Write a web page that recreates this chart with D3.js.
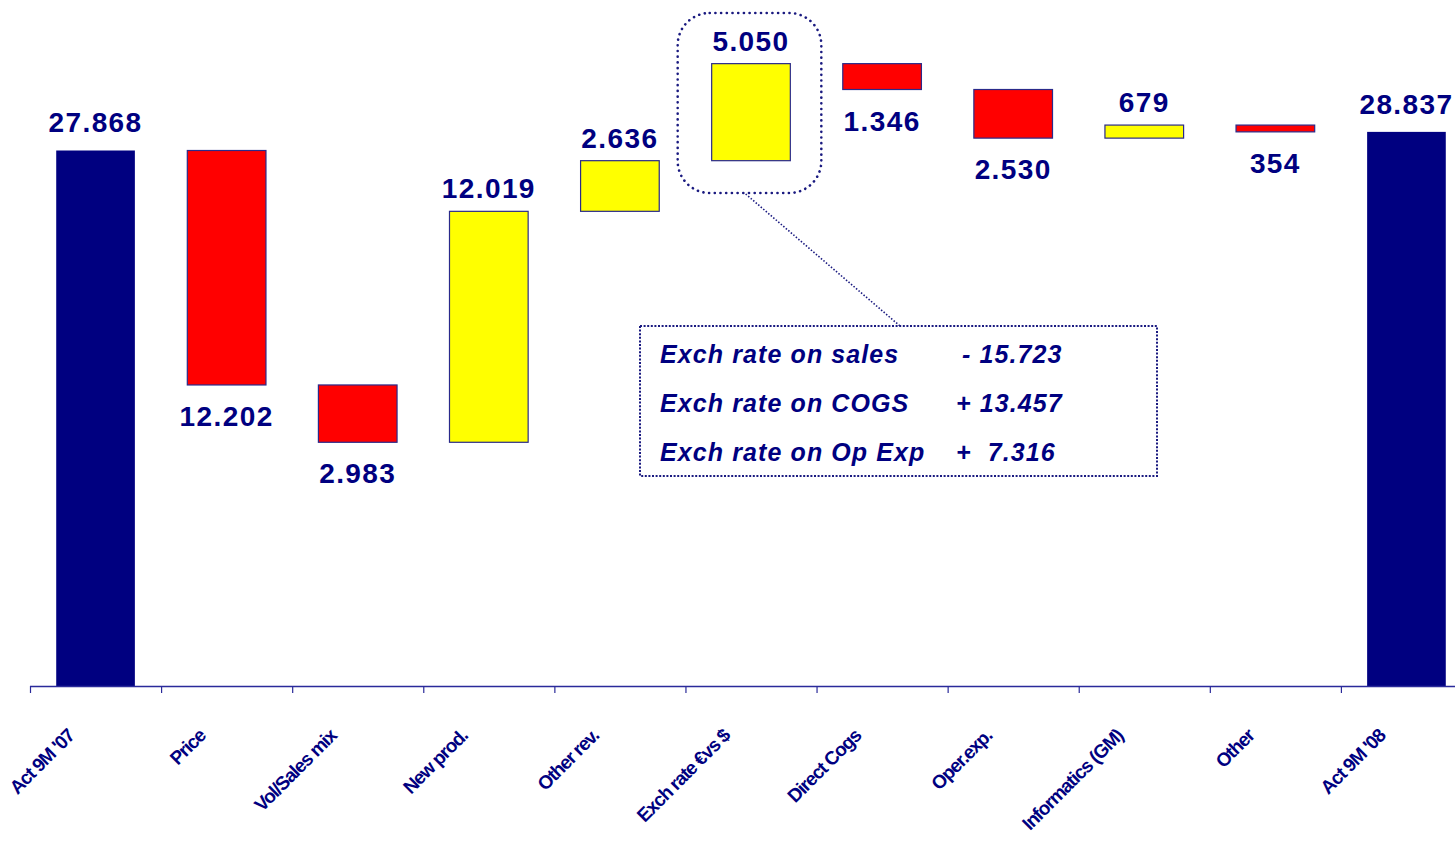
<!DOCTYPE html>
<html>
<head>
<meta charset="utf-8">
<script src="https://cdn.jsdelivr.net/npm/d3@7"></script>
<style>
  body { margin: 0; background: #fff; }
  text { font-family: "Liberation Sans", Arial, sans-serif; }
</style>
</head>
<body>
<div id="chart"></div>
<script>
// waterfall: first and last are totals, the rest are deltas
var categories = ["Act 9M '07", "Price", "Vol/Sales mix", "New prod.", "Other rev.",
  "Exch rate \u20acvs $", "Direct Cogs", "Oper.exp.", "Informatics (GM)", "Other", "Act 9M '08"];
var values = [27868, -12202, -2983, 12019, 2636, 5050, -1346, -2530, 679, -354, 28837];
var valueLabels = ["27.868", "12.202", "2.983", "12.019", "2.636", "5.050", "1.346", "2.530", "679", "354", "28.837"];
var noteLines = ["Exch rate on sales", "Exch rate on COGS", "Exch rate on Op Exp"];
var noteValues = ["- 15.723", "+ 13.457", "+  7.316"];

var width = 1455, height = 842;
var navy = "#000080";

var svg = d3.select("#chart").append("svg")
    .attr("width", width)
    .attr("height", height);

// running totals
var run = 0;
var bars = values.map(function(v, i) {
  var d = { name: categories[i], label: valueLabels[i], value: v };
  if (i === 0 || i === values.length - 1) {
    d.y0 = 0; d.y1 = v; d.type = "total"; run = v;
  } else {
    d.y0 = run; d.y1 = run + v; run = d.y1;
    d.type = v < 0 ? "neg" : "pos";
  }
  return d;
});

var x = d3.scaleBand()
    .domain(categories)
    .range([30, 1472])
    .paddingInner(0.4)
    .paddingOuter(0.2);

var y = d3.scaleLinear()
    .domain([0, 35700])
    .range([686, 0]);

var fill = { total: navy, neg: "#ff0000", pos: "#ffff00" };

svg.append("g").selectAll("rect")
    .data(bars)
    .enter().append("rect")
    .attr("x", function(d) { return x(d.name); })
    .attr("width", x.bandwidth())
    .attr("y", function(d) { return y(Math.max(d.y0, d.y1)); })
    .attr("height", function(d) { return Math.abs(y(d.y0) - y(d.y1)); })
    .attr("fill", function(d) { return fill[d.type]; })
    .attr("stroke", function(d) { return d.type === "total" ? "none" : "#2a2a8a"; })
    .attr("stroke-width", 1.2);

// value labels: above rising bars, below falling ones
svg.append("g").selectAll("text")
    .data(bars)
    .enter().append("text")
    .attr("x", function(d) { return x(d.name) + x.bandwidth() / 2; })
    .attr("y", function(d) {
      if (d.type === "neg") return y(d.y1) + 41;
      return y(d.y1) - (d.type === "total" ? 18 : 13);
    })
    .attr("text-anchor", "middle")
    .attr("font-size", 28)
    .attr("font-weight", "bold")
    .attr("letter-spacing", 1.4)
    .attr("fill", navy)
    .text(function(d) { return d.label; });

// x axis with ticks between categories
var step = x.step();
var axis = svg.append("g");
axis.append("line")
    .attr("x1", 30).attr("x2", width)
    .attr("y1", 686.5).attr("y2", 686.5)
    .attr("stroke", "#2a2a9a")
    .attr("stroke-width", 1.5);
axis.selectAll(".tick")
    .data(d3.range(categories.length))
    .enter().append("line")
    .attr("x1", function(i) { return 30.5 + i * step; })
    .attr("x2", function(i) { return 30.5 + i * step; })
    .attr("y1", 686).attr("y2", 693)
    .attr("stroke", "#2a2a9a")
    .attr("stroke-width", 1.2);

axis.selectAll(".lbl")
    .data(categories)
    .enter().append("text")
    .attr("transform", function(d) {
      return "translate(" + (x(d) + x.bandwidth() / 2 - 20) + ",737) rotate(-45)";
    })
    .attr("text-anchor", "end")
    .attr("font-size", 19)
    .attr("font-weight", "bold")
    .attr("letter-spacing", -1.1)
    .attr("fill", navy)
    .text(function(d) { return d; });

// highlight around the exchange-rate bar
var ex = x(categories[5]);
svg.append("rect")
    .attr("x", ex - 34).attr("y", 13)
    .attr("width", x.bandwidth() + 65).attr("height", 180)
    .attr("rx", 32).attr("ry", 32)
    .attr("fill", "none")
    .attr("stroke", "#1a1a80")
    .attr("stroke-width", 2.6)
    .attr("stroke-linecap", "round")
    .attr("stroke-dasharray", "0.1,5.6");

svg.append("line")
    .attr("x1", ex + 34).attr("y1", 194)
    .attr("x2", 900).attr("y2", 326)
    .attr("stroke", "#1a1a80")
    .attr("stroke-width", 1.6)
    .attr("stroke-dasharray", "1.5,1.8");

svg.append("rect")
    .attr("x", 640).attr("y", 326)
    .attr("width", 517).attr("height", 150)
    .attr("fill", "#fff")
    .attr("stroke", "#1a1a80")
    .attr("stroke-width", 2)
    .attr("stroke-dasharray", "2,1.6");

var note = svg.append("g")
    .attr("font-size", 25)
    .attr("font-weight", "bold")
    .attr("font-style", "italic")
    .attr("fill", navy);

note.selectAll(".nl")
    .data(noteLines)
    .enter().append("text")
    .attr("x", 660)
    .attr("y", function(d, i) { return 363 + i * 49; })
    .attr("letter-spacing", 1.1)
    .text(function(d) { return d; });

note.selectAll(".nv")
    .data(noteValues)
    .enter().append("text")
    .attr("x", function(d, i) { return i === 0 ? 962 : 956; })
    .attr("y", function(d, i) { return 363 + i * 49; })
    .attr("letter-spacing", 1.1)
    .style("white-space", "pre")
    .text(function(d) { return d; });
</script>
</body>
</html>
